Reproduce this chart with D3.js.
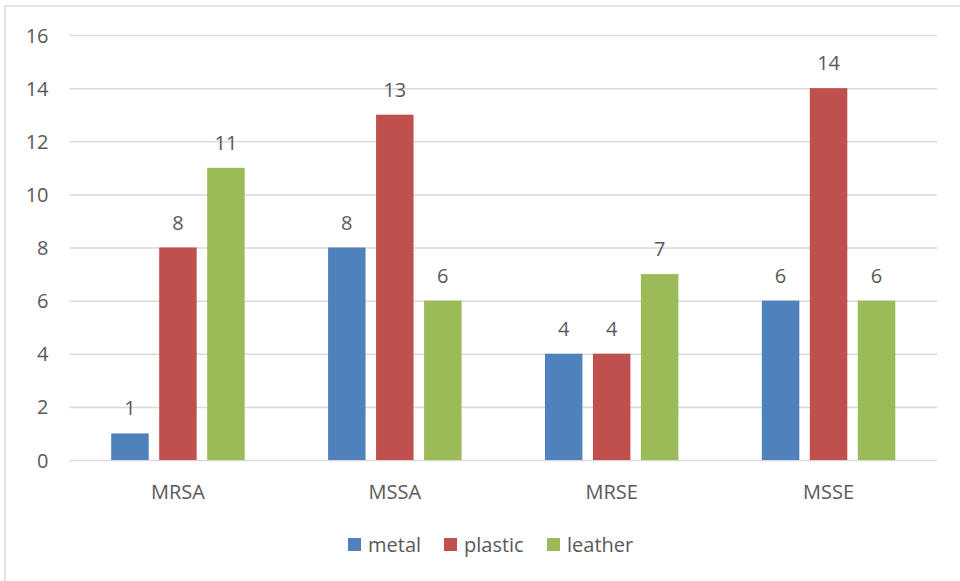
<!DOCTYPE html>
<html>
<head>
<meta charset="utf-8">
<script src="https://cdn.jsdelivr.net/npm/d3@7"></script>
<style>
  html, body { margin: 0; padding: 0; background: #fff; }
  svg { display: block; }
  text { font-family: "Open Sans", sans-serif; fill: #595959; }
</style>
</head>
<body>
<svg id="chart" width="960" height="581"></svg>
<script>
const categories = ["MRSA", "MSSA", "MRSE", "MSSE"];
const seriesNames = ["metal", "plastic", "leather"];
const metal = [1, 8, 4, 6];
const plastic = [8, 13, 4, 14];
const leather = [11, 6, 7, 6];
const yTicks = [0, 2, 4, 6, 8, 10, 12, 14, 16];
const colors = ["#4F81BD", "#C0504D", "#9BBB59"];

const seriesValues = [metal, plastic, leather];
const svg = d3.select("#chart");
const W = 960, H = 581;
const fontSize = 20;

// outer border
svg.append("rect")
  .attr("x", 5).attr("y", 6)
  .attr("width", W + 10).attr("height", H + 10)
  .attr("fill", "none").attr("stroke", "#d9d9d9").attr("stroke-width", 1.5);

const x = d3.scaleBand().domain(categories).range([69.5, 937]).paddingInner(0).paddingOuter(0);
const xs = d3.scaleBand().domain(seriesNames).range([0, x.bandwidth()]).paddingInner(0.219).paddingOuter(0.869);
const y = d3.scaleLinear().domain([0, 16]).range([460, 35]);

// gridlines
const yAxis = d3.axisLeft(y).tickValues(yTicks).tickSize(-(937 - 69.5)).tickFormat(d3.format("d")).tickPadding(21);
const gy = svg.append("g").attr("transform", "translate(69.5,0)").call(yAxis);
gy.select(".domain").remove();
gy.selectAll(".tick line").attr("stroke", "#d9d9d9").attr("stroke-width", 1.5);
gy.selectAll(".tick text")
  .attr("font-size", fontSize).attr("font-family", "Open Sans, sans-serif")
  .attr("fill", "#595959").attr("dy", "0.35em");

// bars
const groups = svg.append("g").selectAll("g")
  .data(categories).join("g")
  .attr("transform", d => `translate(${x(d)},0)`);

groups.selectAll("rect")
  .data((c, i) => seriesNames.map((s, j) => ({ s, v: seriesValues[j][i], j })))
  .join("rect")
  .attr("x", d => xs(d.s))
  .attr("width", xs.bandwidth())
  .attr("y", d => y(d.v))
  .attr("height", d => y(0) - y(d.v))
  .attr("fill", d => colors[d.j]);

groups.selectAll("text.lbl")
  .data((c, i) => seriesNames.map((s, j) => ({ s, v: seriesValues[j][i], j })))
  .join("text")
  .attr("class", "lbl")
  .attr("x", d => xs(d.s) + xs.bandwidth() / 2)
  .attr("y", d => y(d.v) - 18)
  .attr("text-anchor", "middle")
  .attr("font-size", fontSize)
  .text(d => d.v);

// x axis labels
const xAxis = d3.axisBottom(x).tickSize(0).tickPadding(0);
const gx = svg.append("g").attr("transform", "translate(0,460)").call(xAxis);
gx.select(".domain").remove();
gx.selectAll(".tick text")
  .attr("font-size", fontSize).attr("font-family", "Open Sans, sans-serif")
  .attr("fill", "#595959").attr("dy", null).attr("y", 39);

// legend
const legendX = [348, 444, 547];
const legend = svg.append("g").selectAll("g")
  .data(seriesNames).join("g")
  .attr("transform", (d, i) => `translate(${legendX[i]},538)`);
legend.append("rect").attr("width", 13).attr("height", 13).attr("fill", (d, i) => colors[i]);
legend.append("text").attr("x", 20).attr("y", 13.5).attr("font-size", fontSize).text(d => d);
</script>
</body>
</html>
